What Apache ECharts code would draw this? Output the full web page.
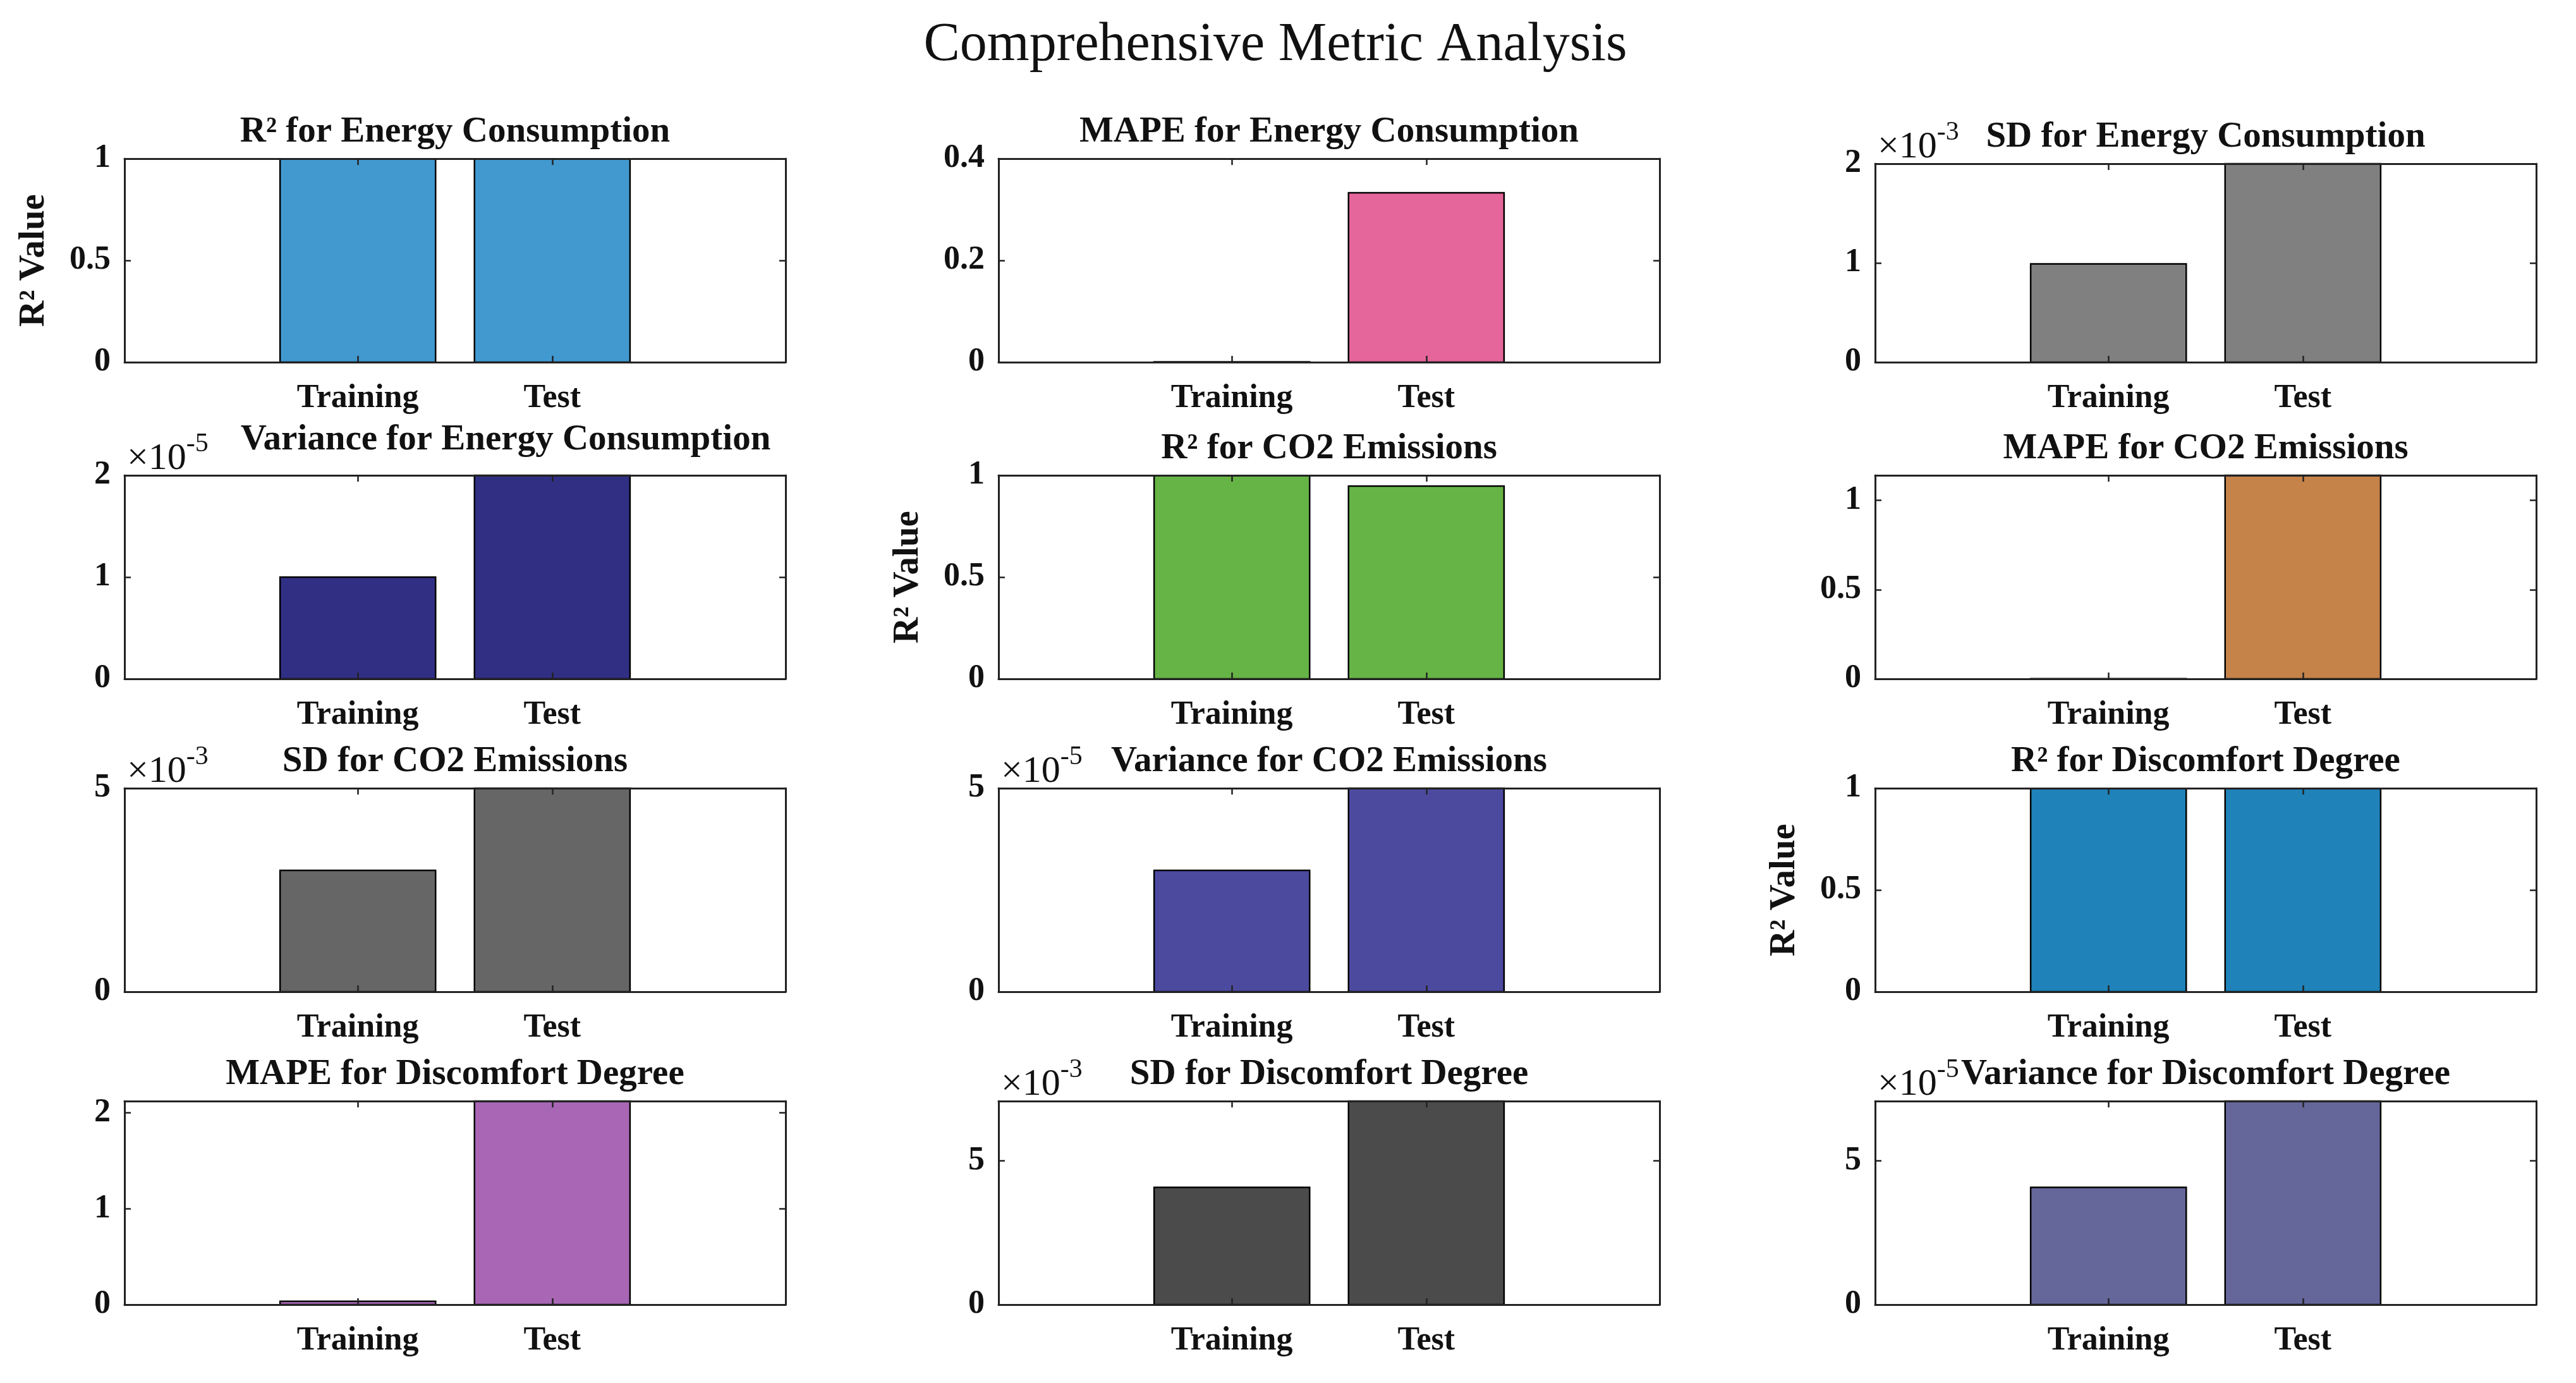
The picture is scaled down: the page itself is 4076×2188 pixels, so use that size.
<!DOCTYPE html>
<html>
<head>
<meta charset="utf-8">
<script src="https://cdn.jsdelivr.net/npm/echarts@6/dist/echarts.min.js"></script>
<style>
html,body{margin:0;padding:0;background:#ffffff;}
#chart{width:4076px;height:2188px;}
</style>
</head>
<body>
<div id="chart"></div>
<script>
// ---------------- DATA ----------------
const categories = ['Training', 'Test'];
const categoryPos = [1, 2];

const r2Energy = [0.9995, 0.9990];
const mapeEnergy = [0.0005, 0.333];
const sdEnergy = [0.99e-3, 2.0e-3];
const varEnergy = [1.0e-5, 2.0e-5];

const r2CO2 = [0.9995, 0.947];
const mapeCO2 = [0.0005, 1.14];
const sdCO2 = [2.98e-3, 5.0e-3];
const varCO2 = [2.98e-5, 5.0e-5];

const r2Discomfort = [0.9995, 0.9990];
const mapeDiscomfort = [0.035, 2.12];
const sdDiscomfort = [4.08e-3, 7.08e-3];
const varDiscomfort = [4.08e-5, 7.08e-5];

// y tick values
const r2Ticks = [0, 0.5, 1];
const mapeEnergyTicks = [0, 0.2, 0.4];
const sdEnergyTicks = [0, 1e-3, 2e-3];
const varEnergyTicks = [0, 1e-5, 2e-5];
const mapeCO2Ticks = [0, 0.5, 1];
const sdCO2Ticks = [0, 5e-3];
const varCO2Ticks = [0, 5e-5];
const mapeDiscomfortTicks = [0, 1, 2];
const sdDiscomfortTicks = [0, 5e-3];
const varDiscomfortTicks = [0, 5e-5];

// y-axis upper limits
const yLimits = [1, 0.4, 2e-3, 2e-5, 1, 1.14, 5e-3, 5e-5, 1, 2.12, 7.08e-3, 7.08e-5];
// exponent shown above axis (0 = none)
const yExponents = [0, 0, -3, -5, 0, 0, -3, -5, 0, 0, -3, -5];

const mainTitle = 'Comprehensive Metric Analysis';
const panelTitles = [
  'R² for Energy Consumption', 'MAPE for Energy Consumption', 'SD for Energy Consumption',
  'Variance for Energy Consumption', 'R² for CO2 Emissions', 'MAPE for CO2 Emissions',
  'SD for CO2 Emissions', 'Variance for CO2 Emissions', 'R² for Discomfort Degree',
  'MAPE for Discomfort Degree', 'SD for Discomfort Degree', 'Variance for Discomfort Degree'
];
const yAxisLabel = 'R² Value';

const panelValues = [r2Energy, mapeEnergy, sdEnergy, varEnergy, r2CO2, mapeCO2,
  sdCO2, varCO2, r2Discomfort, mapeDiscomfort, sdDiscomfort, varDiscomfort];
const panelTicks = [r2Ticks, mapeEnergyTicks, sdEnergyTicks, varEnergyTicks, r2Ticks, mapeCO2Ticks,
  sdCO2Ticks, varCO2Ticks, r2Ticks, mapeDiscomfortTicks, sdDiscomfortTicks, varDiscomfortTicks];

// ---------------- STYLE / LAYOUT ----------------
const panelColors = ['#4199D0', '#E5669A', '#808080', '#312F83', '#66B446', '#C5834A',
  '#666666', '#4C4A9F', '#1F82B9', '#A866B5', '#4B4B4B', '#65669A'];
const FONT = '"Liberation Serif", "Times New Roman", serif';
const AXIS_FS = 52, TITLE_FS = 57, MAIN_FS = 86;
const TEXT_COLOR = '#111111', LINE_COLOR = '#222222';
const COL_LEFT = [197, 1580, 2967];
const ROW_TOP = [251, 752, 1247, 1742];
const PLOT_W = 1046, PLOT_H = 322;
const BAR_W = 0.8;
const X_MIN = -0.2, X_MAX = 3.2;

function gridRect(i) {
  const r = Math.floor(i / 3), c = i % 3;
  let top = ROW_TOP[r], h = PLOT_H;
  if (i === 2) { top += 8; h -= 8; }
  return { left: COL_LEFT[c], top: top, width: PLOT_W, height: h };
}
const titleShift = { 3: [80, -14] };

function fmt(v, e) {
  const s = v / Math.pow(10, e);
  return String(Math.round(s * 1000) / 1000);
}

const grids = [], xAxes = [], yAxes = [], series = [];
const titles = [{
  text: mainTitle, left: 2018, top: 72, textAlign: 'center', textVerticalAlign: 'middle', padding: 0,
  textStyle: { fontFamily: FONT, fontSize: MAIN_FS, fontWeight: 'normal', color: TEXT_COLOR }
}];

for (let i = 0; i < 12; i++) {
  const g = gridRect(i);
  grids.push(Object.assign({ containLabel: false }, g));
  const sh = titleShift[i] || [0, 0];
  titles.push({
    text: panelTitles[i], left: g.left + g.width / 2 + sh[0], top: g.top - 42 + sh[1],
    textAlign: 'center', textVerticalAlign: 'middle', padding: 0,
    textStyle: { fontFamily: FONT, fontSize: TITLE_FS, fontWeight: 'bold', color: TEXT_COLOR }
  });
  const lineStyle = { color: LINE_COLOR, width: 3 };
  const tickStyle = { color: LINE_COLOR, width: 2.5 };
  const xBase = {
    gridIndex: i, type: 'value', min: X_MIN, max: X_MAX, z: 5,
    axisLine: { show: true, onZero: false, lineStyle: lineStyle },
    axisTick: { show: true, inside: true, length: 10, customValues: categoryPos, lineStyle: tickStyle },
    splitLine: { show: false }
  };
  xAxes.push(Object.assign({}, xBase, {
    position: 'bottom',
    axisLabel: {
      show: true, customValues: categoryPos, margin: 32,
      formatter: v => { const k = categoryPos.indexOf(v); return k >= 0 ? categories[k] : ''; },
      fontFamily: FONT, fontSize: AXIS_FS, fontWeight: 'bold', color: TEXT_COLOR
    }
  }));
  xAxes.push(Object.assign({}, xBase, { position: 'top', axisLabel: { show: false } }));

  const ticks = panelTicks[i], e = yExponents[i];
  const yBase = {
    gridIndex: i, type: 'value', min: 0, max: yLimits[i], z: 5,
    axisLine: { show: true, onZero: false, lineStyle: lineStyle },
    axisTick: { show: true, inside: true, length: 10, customValues: ticks, lineStyle: tickStyle },
    splitLine: { show: false }
  };
  const yLeft = Object.assign({}, yBase, {
    position: 'left',
    axisLabel: {
      show: true, customValues: ticks, margin: 22,
      formatter: v => fmt(v, e),
      fontFamily: FONT, fontSize: AXIS_FS, fontWeight: 'bold', color: TEXT_COLOR
    }
  });
  if (panelTitles[i].indexOf('R²') === 0) {
    Object.assign(yLeft, {
      name: yAxisLabel, nameLocation: 'middle', nameRotate: 90, nameGap: 114,
      nameTextStyle: { fontFamily: FONT, fontSize: TITLE_FS, fontWeight: 'bold', color: TEXT_COLOR }
    });
  } else if (e !== 0) {
    Object.assign(yLeft, {
      name: '{b|×10}{s|' + e + '}', nameLocation: 'end', nameGap: -4,
      nameTextStyle: {
        align: 'left', verticalAlign: 'bottom', padding: [0, 0, 0, 4],
        rich: {
          b: { fontFamily: FONT, fontSize: 60, fontWeight: 'normal', color: TEXT_COLOR, lineHeight: 74, verticalAlign: 'bottom' },
          s: { fontFamily: FONT, fontSize: 42, fontWeight: 'normal', color: TEXT_COLOR, lineHeight: 42, verticalAlign: 'top' }
        }
      }
    });
  }
  yAxes.push(yLeft);
  yAxes.push(Object.assign({}, yBase, { position: 'right', axisLabel: { show: false } }));

  const color = panelColors[i];
  series.push({
    type: 'custom', xAxisIndex: 2 * i, yAxisIndex: 2 * i, z: 2, clip: false,
    data: panelValues[i].map((v, k) => [categoryPos[k], v]),
    renderItem: function (params, api) {
      const x = api.value(0), y = api.value(1);
      const p0 = api.coord([x - BAR_W / 2, 0]);
      const p1 = api.coord([x + BAR_W / 2, y]);
      return {
        type: 'rect',
        shape: { x: p0[0], y: p1[1], width: p1[0] - p0[0], height: p0[1] - p1[1] },
        style: { fill: color, stroke: '#000000', lineWidth: 2.5 }
      };
    }
  });
}

const chart = echarts.init(document.getElementById('chart'), null, { renderer: 'canvas', width: 4076, height: 2188 });
chart.setOption({
  backgroundColor: '#ffffff',
  animation: false,
  title: titles,
  grid: grids,
  xAxis: xAxes,
  yAxis: yAxes,
  series: series
});
</script>
</body>
</html>
